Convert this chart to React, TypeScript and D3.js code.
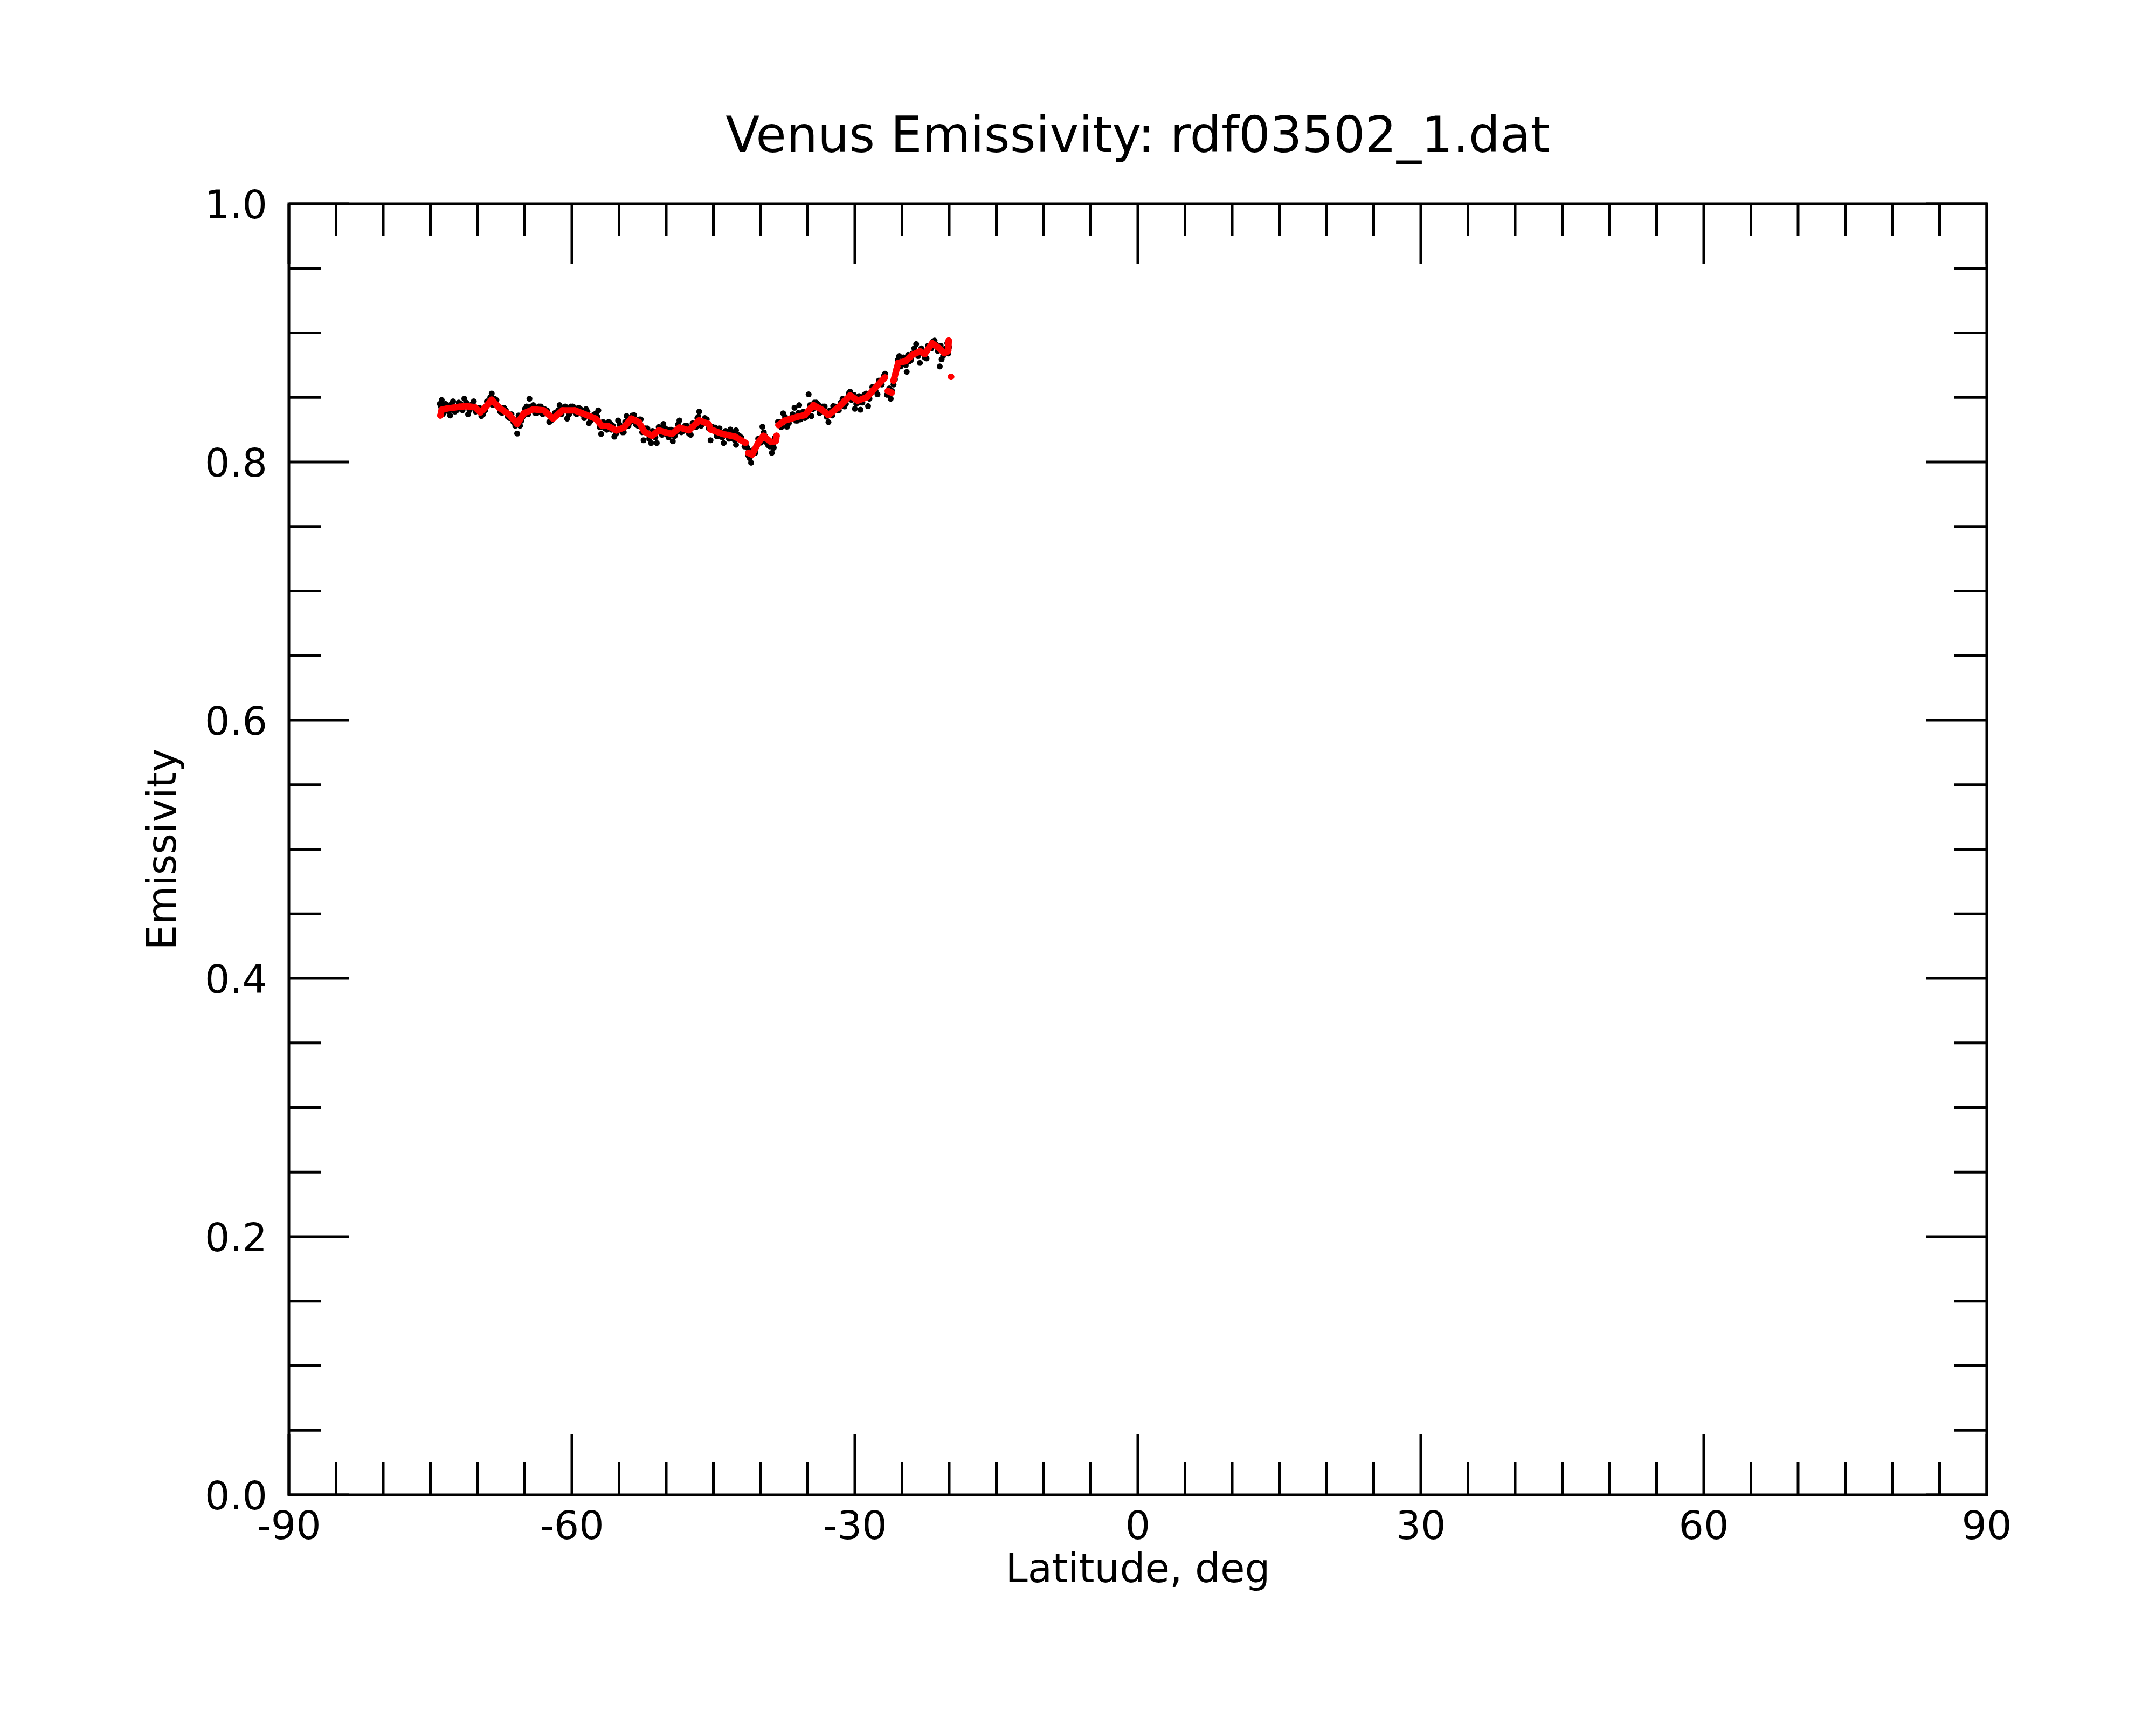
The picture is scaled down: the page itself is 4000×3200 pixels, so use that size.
import * as d3 from "d3";

// figure geometry (px)
const W = 4000;
const H = 3200;
const plot = { left: 536, right: 3686, top: 378, bottom: 2773 };

const title = "Venus Emissivity: rdf03502_1.dat";
const xLabel = "Latitude, deg";
const yLabel = "Emissivity";

const xMajor = [-90, -60, -30, 0, 30, 60, 90];
const yMajor = [0, 0.2, 0.4, 0.6, 0.8, 1.0];
const yTickText = ["0.0", "0.2", "0.4", "0.6", "0.8", "1.0"];

// raw emissivity samples (black)
const rawLat = [
  -74.0, -73.8, -73.6, -73.2, -72.9, -72.6, -72.2, -71.8, -71.4, -71.0,
  -70.7, -70.4, -70.0, -69.6, -69.2, -68.8, -68.5, -68.2, -67.8, -67.4,
  -67.0, -66.6, -66.2, -65.8, -65.5, -65.2, -64.8, -64.5, -64.1, -63.7,
  -63.3, -62.9, -62.4, -62.0, -61.6, -61.3, -60.9, -60.5, -60.1, -59.7,
  -59.3, -58.9, -58.5, -58.2, -57.8, -57.4, -57.2, -56.9, -56.5, -56.1,
  -55.8, -55.5, -55.1, -54.8, -54.5, -54.2, -53.8, -53.4, -53.0, -52.7,
  -52.4, -52.0, -51.6, -51.3, -51.0, -50.6, -50.3, -49.9, -49.6, -49.3,
  -48.9, -48.6, -48.2, -47.8, -47.4, -47.0, -46.7, -46.5, -46.1, -45.7,
  -45.3, -44.8, -44.5, -44.2, -43.9, -43.5, -43.2, -42.9, -42.6, -42.6,
  -42.2, -41.9, -41.5, -41.3, -41.0, -40.7, -40.4, -40.1, -39.8, -39.5,
  -39.2, -38.8, -38.6, -38.3, -38.0, -37.6, -37.2, -36.8, -36.4, -36.1,
  -35.9, -35.6, -35.3, -34.9, -34.6, -34.3, -33.9, -33.6, -33.2, -32.8,
  -32.5, -32.3, -31.9, -31.5, -31.1, -30.8, -30.5, -30.2, -30.0, -29.7,
  -29.4, -29.0, -28.6, -28.3, -28.0, -27.6, -27.3, -27.0, -26.8, -26.5,
  -26.2, -25.9, -25.6, -25.3, -25.0, -24.7, -24.5, -24.2, -23.9, -23.5,
  -23.1, -22.8, -22.4, -22.1, -21.7, -21.4, -21.0, -20.8, -20.5, -20.2,
  -20.0,
  -73.9, -73.7, -73.4, -73.05, -72.75, -72.4, -72.0, -71.6, -71.2, -70.85,
  -70.55, -70.2, -69.8, -69.4, -69.0, -68.65, -68.35, -68.0, -67.6, -67.2,
  -66.8, -66.4, -66.0, -65.65, -65.35, -65.0, -64.65, -64.3, -63.9, -63.5,
  -63.1, -62.65, -62.2, -61.8, -61.45, -61.1, -60.7, -60.3, -59.9, -59.5,
  -59.1, -58.7, -58.35, -58.0, -57.6, -57.3, -57.05, -56.7, -56.3, -55.95,
  -55.65, -55.3, -54.95, -54.65, -54.35, -54.0, -53.6, -53.2, -52.85, -52.55,
  -52.2, -51.8, -51.45, -51.15, -50.8, -50.45, -50.1, -49.75, -49.45, -49.1,
  -48.75, -48.4, -48.0, -47.6, -47.2, -46.85, -46.6, -46.3, -45.9, -45.5,
  -45.05, -44.65, -44.35, -44.05, -43.7, -43.35, -43.05, -42.75, -42.4, -42.05,
  -41.7, -41.4, -41.15, -40.85, -40.55, -40.25, -39.95, -39.65, -39.35, -39.0,
  -38.7, -38.45, -38.15, -37.8, -37.4, -37.0, -36.6, -36.25, -36.0, -35.75,
  -35.45, -35.1, -34.75, -34.45, -34.1, -33.75, -33.4, -33.0, -32.65, -32.4,
  -32.1, -31.7, -31.3, -30.95, -30.65, -30.35, -30.1, -29.85, -29.55, -29.2,
  -28.8, -28.45, -28.15, -27.8, -27.45, -27.15, -26.9, -26.6, -26.35, -26.05,
  -25.75, -25.45, -25.15, -24.85, -24.6, -24.35, -24.05, -23.7, -23.3, -22.95,
  -22.6, -22.25, -21.9, -21.55, -21.2, -20.9, -20.65, -20.35, -20.1,
];
const rawEmis = [
  0.845, 0.848, 0.838, 0.844, 0.836, 0.847, 0.840, 0.845, 0.849, 0.837,
  0.844, 0.847, 0.841, 0.8356, 0.840, 0.846, 0.853, 0.849, 0.843, 0.838,
  0.840, 0.834, 0.831, 0.822, 0.828, 0.835, 0.843, 0.849, 0.844, 0.838,
  0.843, 0.841, 0.831, 0.836, 0.838, 0.844, 0.842, 0.8336, 0.843, 0.839,
  0.842, 0.837, 0.841, 0.830, 0.836, 0.8377, 0.840, 0.8217, 0.826, 0.831,
  0.825, 0.8196, 0.8322, 0.827, 0.823, 0.8356, 0.831, 0.8363, 0.828, 0.833,
  0.8168, 0.826, 0.8147, 0.822, 0.8147, 0.826, 0.8294, 0.821, 0.825, 0.816,
  0.823, 0.8322, 0.824, 0.828, 0.821, 0.827, 0.834, 0.839, 0.830, 0.833,
  0.8168, 0.8266, 0.820, 0.823, 0.8147, 0.821, 0.8252, 0.818, 0.8245, 0.8133,
  0.820, 0.816, 0.812, 0.805, 0.7994, 0.808, 0.812, 0.818, 0.8273, 0.820,
  0.813, 0.807, 0.811, 0.818, 0.831, 0.8377, 0.8273, 0.834, 0.842, 0.832,
  0.844, 0.838, 0.834, 0.8524, 0.8356, 0.846, 0.8447, 0.839, 0.843, 0.8308,
  0.838, 0.8433, 0.840, 0.846, 0.843, 0.849, 0.8545, 0.849, 0.8412, 0.846,
  0.8405, 0.852, 0.8433, 0.853, 0.857, 0.8524, 0.862, 0.864, 0.8684, 0.853,
  0.849, 0.860, 0.872, 0.882, 0.876, 0.880, 0.8698, 0.878, 0.884, 0.8913,
  0.8767, 0.886, 0.8802, 0.889, 0.8934, 0.891, 0.874, 0.8795, 0.885, 0.892,
  0.889,
  0.843, 0.837, 0.845, 0.839, 0.845, 0.839, 0.846, 0.840, 0.846, 0.840,
  0.845, 0.839, 0.842, 0.837, 0.847, 0.850, 0.844, 0.848, 0.839, 0.842,
  0.835, 0.837, 0.828, 0.836, 0.832, 0.841, 0.837, 0.843, 0.838, 0.843,
  0.837, 0.840, 0.832, 0.838, 0.840, 0.837, 0.843, 0.837, 0.843, 0.837,
  0.841, 0.834, 0.839, 0.832, 0.837, 0.835, 0.827, 0.831, 0.825, 0.830,
  0.828, 0.822, 0.829, 0.823, 0.831, 0.828, 0.836, 0.829, 0.833, 0.823,
  0.826, 0.818, 0.824, 0.819, 0.827, 0.821, 0.826, 0.819, 0.825, 0.820,
  0.829, 0.823, 0.828, 0.822, 0.830, 0.827, 0.835, 0.828, 0.834, 0.826,
  0.827, 0.820, 0.826, 0.819, 0.824, 0.818, 0.823, 0.817, 0.821, 0.819,
  0.812, 0.811, 0.803, 0.809, 0.807, 0.818, 0.815, 0.823, 0.815, 0.812,
  0.813, 0.819, 0.831, 0.827, 0.835, 0.830, 0.837, 0.832, 0.838, 0.833,
  0.839, 0.835, 0.844, 0.841, 0.846, 0.838, 0.843, 0.835, 0.840, 0.836,
  0.843, 0.840, 0.849, 0.845, 0.853, 0.848, 0.852, 0.845, 0.851, 0.846,
  0.853, 0.849, 0.858, 0.855, 0.863, 0.860, 0.867, 0.852, 0.857, 0.855,
  0.864, 0.879, 0.874, 0.881, 0.875, 0.883, 0.879, 0.888, 0.882, 0.888,
  0.881, 0.890, 0.888, 0.894, 0.886, 0.890, 0.882, 0.888, 0.884,
];

// smoothed emissivity (red); null marks a break in the run
const smoothLat = [
  -73.94, -73.8, -73.2, -72.6, -71.9, -71.2, -70.3, -69.7, -69.1, -68.5,
  -67.7, -66.7, -66.2, -65.8, -65.1, -64.1, -63.0, -62.5, -62.0, -61.0,
  -59.7, -58.4, -57.5, -56.8, -56.2, -55.3, -54.5, -53.7, -52.9, -52.3,
  -51.5, -50.8, -50.1, -49.4, -48.6, -47.6, -46.5, -45.5, -45.3, -44.0,
  -42.7, -41.6, -41.45, -41.3, -40.9, -40.2, -39.7, -38.9, -38.4, -38.3,
  -38.2, -38.1, -37.4, -36.1, -35.3, -34.4, -33.5, -32.8, -31.8, -30.5,
  -29.7, -28.7, -27.7, -26.8, -26.65, -26.5, -26.1, -26.0, -25.9, -25.4,
  -24.6, -23.9, -23.1, -22.6, -21.8, -21.0, -20.5, -20.1, -20.05, -19.9,
  -19.8,
];
const smoothEmis: (number | null)[] = [
  0.836, 0.8405, 0.8415, 0.842, 0.8428, 0.8432, 0.8425, 0.8384, 0.843, 0.8482,
  0.842, 0.837, 0.833, 0.8294, 0.8377, 0.8408, 0.840, 0.837, 0.8336, 0.840,
  0.840, 0.8363, 0.8336, 0.828, 0.828, 0.8244, 0.8266, 0.8336, 0.8308, 0.8234,
  0.8203, 0.8245, 0.823, 0.8217, 0.8266, 0.8245, 0.8322, 0.8294, 0.8252, 0.8217,
  0.8196, 0.8148, null, 0.807, 0.8057, 0.8154, 0.8203, 0.8154, 0.8161, 0.8203,
  null, 0.8286, 0.8322, 0.835, 0.8363, 0.844, 0.8405, 0.8363, 0.842, 0.8516,
  0.8475, 0.8503, 0.8586, 0.8655, null, 0.855, 0.8537, null, 0.8628, 0.8767,
  0.8781, 0.8829, 0.8857, 0.8836, 0.892, 0.8878, 0.8843, 0.886, 0.894, null,
  0.866,
];

const x = d3.scaleLinear().domain([-90, 90]).range([plot.left, plot.right]);
const y = d3.scaleLinear().domain([0, 1]).range([plot.bottom, plot.top]);

const xMinor = d3.range(-90, 90.01, 5).filter((v) => !xMajor.includes(v));
const yMinor = d3.range(0, 1.001, 0.05).map((v) => +v.toFixed(2)).filter((v) => !yMajor.includes(v));

const MAJ = 112;
const MIN = 60;
const font = "'DejaVu Sans', sans-serif";

export default function App() {
  const rawPts = rawLat.map((lat, i) => ({ lat, e: rawEmis[i] }));
  const smPts = smoothLat.map((lat, i) => ({ lat, e: smoothEmis[i] }));
  const line = d3
    .line<{ lat: number; e: number | null }>()
    .defined((d) => d.e != null)
    .x((d) => x(d.lat))
    .y((d) => y(d.e as number));

  return (
    <svg
      width={W}
      height={H}
      style={{ position: "absolute", left: 0, top: 0, background: "#fff" }}
      fontFamily={font}
    >
      <rect width={W} height={H} fill="#fff" />
      <text x={(plot.left + plot.right) / 2} y={282} fontSize={92} textAnchor="middle">
        {title}
      </text>

      {/* data */}
      <g>
        {rawPts.map((d, i) => (
          <circle key={i} cx={x(d.lat)} cy={y(d.e)} r={5.5} fill="#000" />
        ))}
      </g>
      <path
        d={line(smPts) || ""}
        fill="none"
        stroke="#ff0000"
        strokeWidth={12}
        strokeLinejoin="round"
        strokeLinecap="round"
      />
      <g>
        {smPts
          .filter((d) => d.e != null)
          .map((d, i) => (
            <circle key={i} cx={x(d.lat)} cy={y(d.e as number)} r={6} fill="#ff0000" />
          ))}
      </g>

      {/* frame and ticks */}
      <g stroke="#000" strokeWidth={5} fill="none">
        <rect
          x={plot.left}
          y={plot.top}
          width={plot.right - plot.left}
          height={plot.bottom - plot.top}
        />
        {xMajor.map((v) => (
          <g key={"xM" + v}>
            <line x1={x(v)} x2={x(v)} y1={plot.bottom} y2={plot.bottom - MAJ} />
            <line x1={x(v)} x2={x(v)} y1={plot.top} y2={plot.top + MAJ} />
          </g>
        ))}
        {xMinor.map((v) => (
          <g key={"xm" + v}>
            <line x1={x(v)} x2={x(v)} y1={plot.bottom} y2={plot.bottom - MIN} />
            <line x1={x(v)} x2={x(v)} y1={plot.top} y2={plot.top + MIN} />
          </g>
        ))}
        {yMajor.map((v) => (
          <g key={"yM" + v}>
            <line x1={plot.left} x2={plot.left + MAJ} y1={y(v)} y2={y(v)} />
            <line x1={plot.right} x2={plot.right - MAJ} y1={y(v)} y2={y(v)} />
          </g>
        ))}
        {yMinor.map((v) => (
          <g key={"ym" + v}>
            <line x1={plot.left} x2={plot.left + MIN} y1={y(v)} y2={y(v)} />
            <line x1={plot.right} x2={plot.right - MIN} y1={y(v)} y2={y(v)} />
          </g>
        ))}
      </g>

      {/* tick labels */}
      <g fontSize={73} fill="#000">
        {xMajor.map((v) => (
          <text key={"xl" + v} x={x(v)} y={plot.bottom + 82} textAnchor="middle">
            {String(v)}
          </text>
        ))}
        {yMajor.map((v, i) => (
          <text key={"yl" + v} x={plot.left - 40} y={y(v) + 27} textAnchor="end">
            {yTickText[i]}
          </text>
        ))}
      </g>

      <text x={(plot.left + plot.right) / 2} y={2935} fontSize={74} textAnchor="middle">
        {xLabel}
      </text>
      <text
        transform={`translate(326, ${(plot.top + plot.bottom) / 2}) rotate(-90)`}
        fontSize={74}
        textAnchor="middle"
      >
        {yLabel}
      </text>
    </svg>
  );
}
